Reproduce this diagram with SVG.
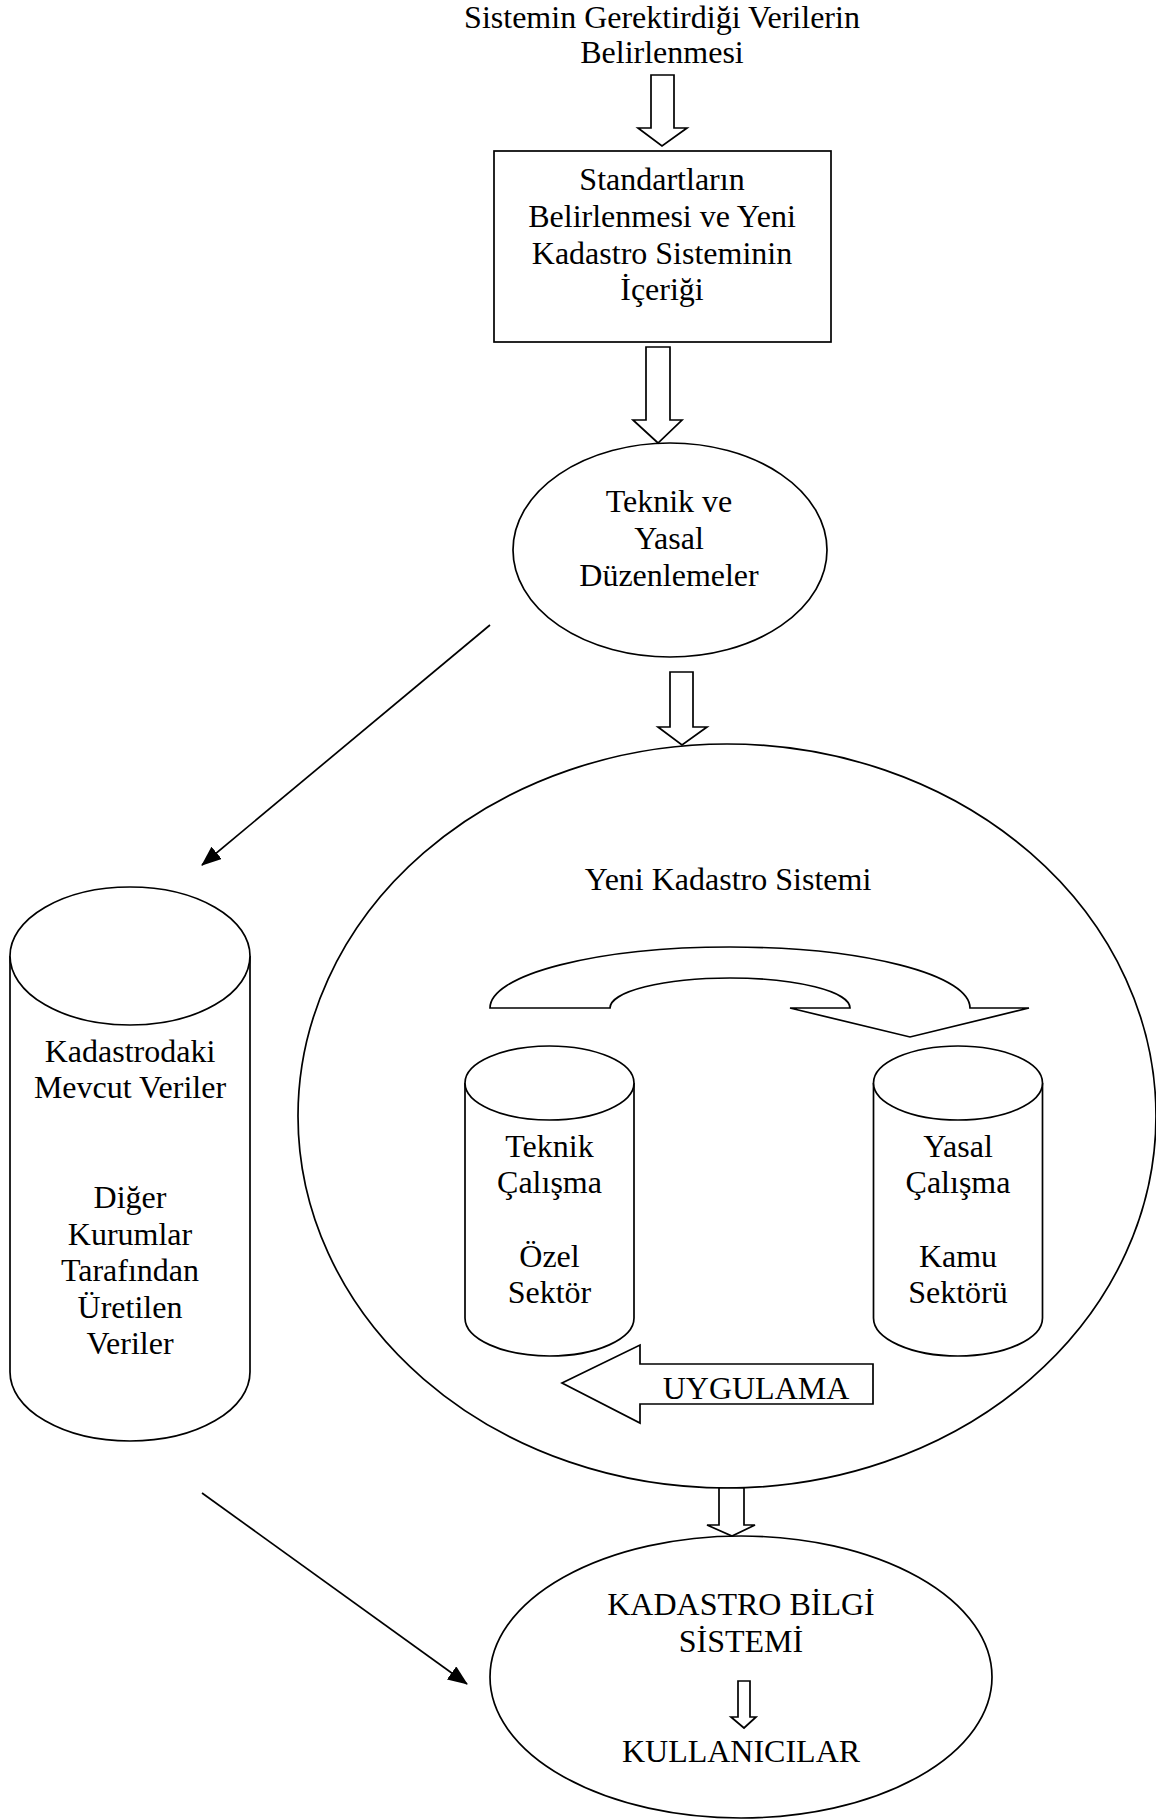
<svg xmlns="http://www.w3.org/2000/svg" width="1156" height="1820" viewBox="0 0 1156 1820">
<style>
.s{fill:#fff;stroke:#000;stroke-width:1.7}
.l{fill:none;stroke:#000;stroke-width:1.7}
.t{font-family:"Liberation Serif","Times New Roman",serif;font-size:32px;text-anchor:middle;fill:#000}
</style>
<defs>
<marker id="ah" markerUnits="userSpaceOnUse" markerWidth="20" markerHeight="16" viewBox="0 0 20 16" refX="19" refY="8" orient="auto">
<path d="M0,0 L20,8 L0,16 Z" fill="#000"/>
</marker>
</defs>
<rect width="1156" height="1820" fill="#fff"/>

<g id="title">
<text class="t" x="662" y="28">Sistemin Gerektirdiği Verilerin</text>
<text class="t" x="662" y="63">Belirlenmesi</text>
</g>

<g id="standartlar">
<rect class="s" x="494" y="151" width="337" height="191"/>
<text class="t" x="662" y="190">Standartların</text>
<text class="t" x="662" y="227">Belirlenmesi ve Yeni</text>
<text class="t" x="662" y="264">Kadastro Sisteminin</text>
<text class="t" x="662" y="300">İçeriği</text>
</g>

<g id="duzenlemeler">
<ellipse class="s" cx="670" cy="550" rx="157" ry="107"/>
<text class="t" x="669" y="512">Teknik ve</text>
<text class="t" x="669" y="549">Yasal</text>
<text class="t" x="669" y="586">Düzenlemeler</text>
</g>

<g id="mevcut-veriler">
<path class="s" d="M10,956 V1372 A120,69 0 0 0 250,1372 V956"/>
<ellipse class="s" cx="130" cy="956" rx="120" ry="69"/>
<text class="t" x="130" y="1062">Kadastrodaki</text>
<text class="t" x="130" y="1098">Mevcut Veriler</text>
<text class="t" x="130" y="1208">Diğer</text>
<text class="t" x="130" y="1245">Kurumlar</text>
<text class="t" x="130" y="1281">Tarafından</text>
<text class="t" x="130" y="1318">Üretilen</text>
<text class="t" x="130" y="1354">Veriler</text>
</g>

<g id="yeni-kadastro">
<ellipse class="s" cx="727" cy="1116" rx="429" ry="372"/>
<text class="t" x="728" y="890">Yeni Kadastro Sistemi</text>
</g>

<g id="teknik-calisma">
<path class="s" d="M465,1083 V1318 A84.5,38 0 0 0 634,1318 V1083"/>
<ellipse class="s" cx="549.5" cy="1083" rx="84.5" ry="37"/>
<text class="t" x="549.5" y="1157">Teknik</text>
<text class="t" x="549.5" y="1193">Çalışma</text>
<text class="t" x="549.5" y="1267">Özel</text>
<text class="t" x="549.5" y="1303">Sektör</text>
</g>

<g id="yasal-calisma">
<path class="s" d="M873.5,1083 V1318 A84.5,38 0 0 0 1042.5,1318 V1083"/>
<ellipse class="s" cx="958" cy="1083" rx="84.5" ry="37"/>
<text class="t" x="958" y="1157">Yasal</text>
<text class="t" x="958" y="1193">Çalışma</text>
<text class="t" x="958" y="1267">Kamu</text>
<text class="t" x="958" y="1303">Sektörü</text>
</g>

<g id="kadastro-bilgi">
<ellipse class="s" cx="741" cy="1677" rx="251" ry="141"/>
<text class="t" x="741" y="1615">KADASTRO BİLGİ</text>
<text class="t" x="741" y="1652">SİSTEMİ</text>
<text class="t" x="741" y="1762">KULLANICILAR</text>
</g>

<g id="connectors">
<path class="s" d="M651,75 H674 V128 H687 L662,146 L638,128 H651 Z"/>
<path class="s" d="M646,347 H670 V420 H682 L658,443 L633,420 H646 Z"/>
<path class="s" d="M670,672 H693 V727 H707 L682,745 L658,727 H670 Z"/>
<path class="s" d="M719,1488 H744 V1525 H755 L732,1536 L707,1525 H719 Z"/>
<path class="s" d="M738,1681 H750 V1717 H756 L744,1728 L731,1717 H738 Z"/>
<line class="l" x1="490" y1="625" x2="202" y2="865" marker-end="url(#ah)"/>
<line class="l" x1="202" y1="1493" x2="467" y2="1684" marker-end="url(#ah)"/>
<path class="s" d="M490,1008 A240,61 0 0 1 970,1008 H1029 L910,1037 L790,1008 H850 A120,30 0 0 0 610,1008 Z"/>
<path class="s" d="M562,1383 L640,1345 V1364 H873 V1404 H640 V1423 Z"/>
<text class="t" x="756" y="1399">UYGULAMA</text>
</g>
</svg>
